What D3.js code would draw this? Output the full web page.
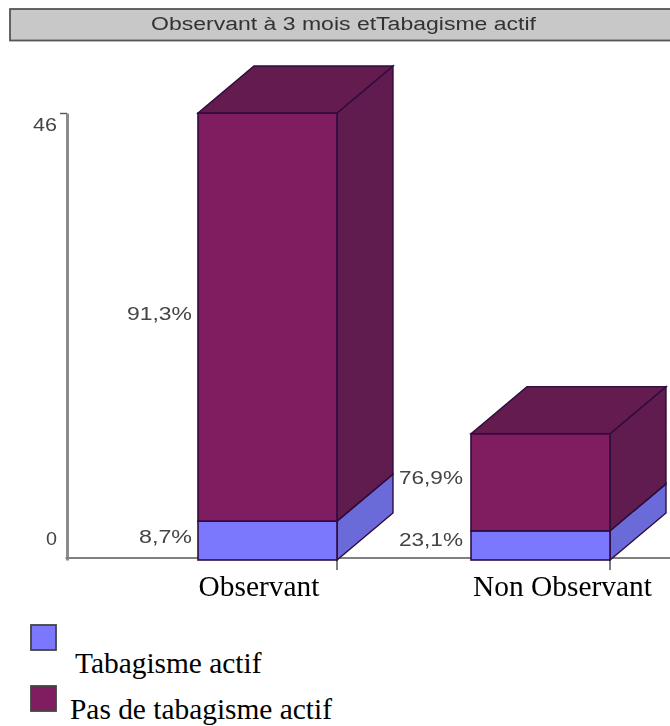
<!DOCTYPE html>
<html><head><meta charset="utf-8">
<script src="https://cdn.jsdelivr.net/npm/d3@7"></script>
<style>html,body{margin:0;padding:0;background:#fff;overflow:hidden}svg{display:block}</style>
</head><body><div id="c"></div>
<script>
const title = "Observant à 3 mois etTabagisme actif";
const categories = ["Observant", "Non Observant"];
const seriesNames = ["Tabagisme actif", "Pas de tabagisme actif"];
const actif = [4, 3];
const nonActif = [42, 10];
const actifLabels = ["8,7%", "23,1%"];
const nonActifLabels = ["91,3%", "76,9%"];
const yTicks = [0, 46];

const W = 670, H = 726;
const front = ["#7b78fe", "#801c60"], side = ["#6b6bd8", "#611a50"], topC = ["#6b6bd8", "#631a4e"];
const edge = "#2e0a3e";
const svg = d3.select("#c").append("svg").attr("width", W).attr("height", H);
const defs = svg.append("defs");
defs.append("filter").attr("id", "soft").append("feGaussianBlur").attr("stdDeviation", 0.6);

const y = d3.scaleLinear().domain([0, 46]).range([560, 113]);
const bw = 139, dx = 56, dy = 47;
const xs = d3.scalePoint().domain(categories).range([198, 471]);
const stretched = (sel, len) => sel.attr("textLength", len).attr("lengthAdjust", "spacingAndGlyphs");

// title bar
svg.append("rect").attr("x", 10).attr("y", 9).attr("width", 670).attr("height", 31.5)
  .attr("fill", "#c8c8c8").attr("stroke", "#555").attr("stroke-width", 1.8).attr("filter", "url(#soft)");
stretched(svg.append("text").attr("x", 151).attr("y", 29.5)
  .attr("font-family", "Liberation Sans").attr("font-size", 18).attr("fill", "#333")
  .attr("filter", "url(#soft)").text(title), 385);

// axis
const axisG = svg.append("g").attr("filter", "url(#soft)");
const yAxis = d3.axisLeft(y).tickValues(yTicks).tickSize(7).tickSizeOuter(0);
const ag = axisG.append("g").attr("transform", "translate(67,0)").call(yAxis);
ag.select(".domain").attr("stroke", "#8c8c8c").attr("stroke-width", 3);
ag.selectAll(".tick line").attr("stroke", "#555").attr("stroke-width", 1.4);
ag.selectAll(".tick").filter(d => d === 0).select("line").remove();
ag.selectAll(".tick text").attr("font-family", "Liberation Sans").attr("font-size", 18).attr("fill", "#444")
  .attr("x", -10).attr("dy", null).attr("y", d => d === 0 ? -16 : 17)
  .attr("textLength", d => d === 0 ? 11 : 24).attr("lengthAdjust", "spacingAndGlyphs");
axisG.append("line").attr("x1", 65.5).attr("x2", 670).attr("y1", y(0) - 2).attr("y2", y(0) - 2)
  .attr("stroke", "#808080").attr("stroke-width", 2.2);
categories.forEach(c => {
  axisG.append("line").attr("x1", xs(c) + bw).attr("x2", xs(c) + bw)
    .attr("y1", y(0) - 2).attr("y2", y(0) + 10).attr("stroke", "#707070").attr("stroke-width", 1.8);
});

// bars
const barsG = svg.append("g").attr("filter", "url(#soft)");
const pts = a => a.map(p => p.join(",")).join(" ");
categories.forEach((c, i) => {
  const x0 = xs(c), x1 = x0 + bw;
  [actif[i], actif[i] + nonActif[i]].forEach((top, s) => {
    const base = s === 0 ? 0 : actif[i];
    const yT = y(top), yB = y(base);
    barsG.append("polygon").attr("points", pts([[x1, yT], [x1 + dx, yT - dy], [x1 + dx, yB - dy], [x1, yB]]))
      .attr("fill", side[s]).attr("stroke", edge).attr("stroke-width", 1.4);
    barsG.append("rect").attr("x", x0).attr("y", yT).attr("width", bw).attr("height", yB - yT)
      .attr("fill", front[s]).attr("stroke", edge).attr("stroke-width", 1.6);
    if (s === 1) barsG.append("polygon")
      .attr("points", pts([[x0, yT], [x0 + dx, yT - dy], [x1 + dx, yT - dy], [x1, yT]]))
      .attr("fill", topC[s]).attr("stroke", edge).attr("stroke-width", 1.4);
  });
});

// percent labels
const pctG = svg.append("g").attr("font-family", "Liberation Sans").attr("font-size", 18)
  .attr("fill", "#444").attr("filter", "url(#soft)");
[[nonActifLabels[0], 127, 320, 65], [actifLabels[0], 139, 543, 53],
 [nonActifLabels[1], 399, 484, 64], [actifLabels[1], 399, 546, 64]].forEach(([t, px, py, len]) => {
  stretched(pctG.append("text").attr("x", px).attr("y", py).text(t), len);
});

// category labels
const catX = [259, 562.5];
svg.append("g").selectAll("text").data(categories).join("text")
  .attr("x", (d, i) => catX[i]).attr("y", 596).attr("text-anchor", "middle")
  .attr("font-family", "Liberation Serif").attr("font-size", 29.4).attr("fill", "#000").text(d => d);

// legend
const legY = [625, 686], legTextX = [75, 70], legTextY = [673, 719];
const lg = svg.append("g");
seriesNames.forEach((n, i) => {
  lg.append("rect").attr("x", 31).attr("y", legY[i]).attr("width", 25).attr("height", 25)
    .attr("fill", front[i]).attr("stroke", "#444").attr("stroke-width", 1.8).attr("filter", "url(#soft)");
  lg.append("text").attr("x", legTextX[i]).attr("y", legTextY[i])
    .attr("font-family", "Liberation Serif").attr("font-size", 29.4).attr("fill", "#000").text(n);
});
</script></body></html>
